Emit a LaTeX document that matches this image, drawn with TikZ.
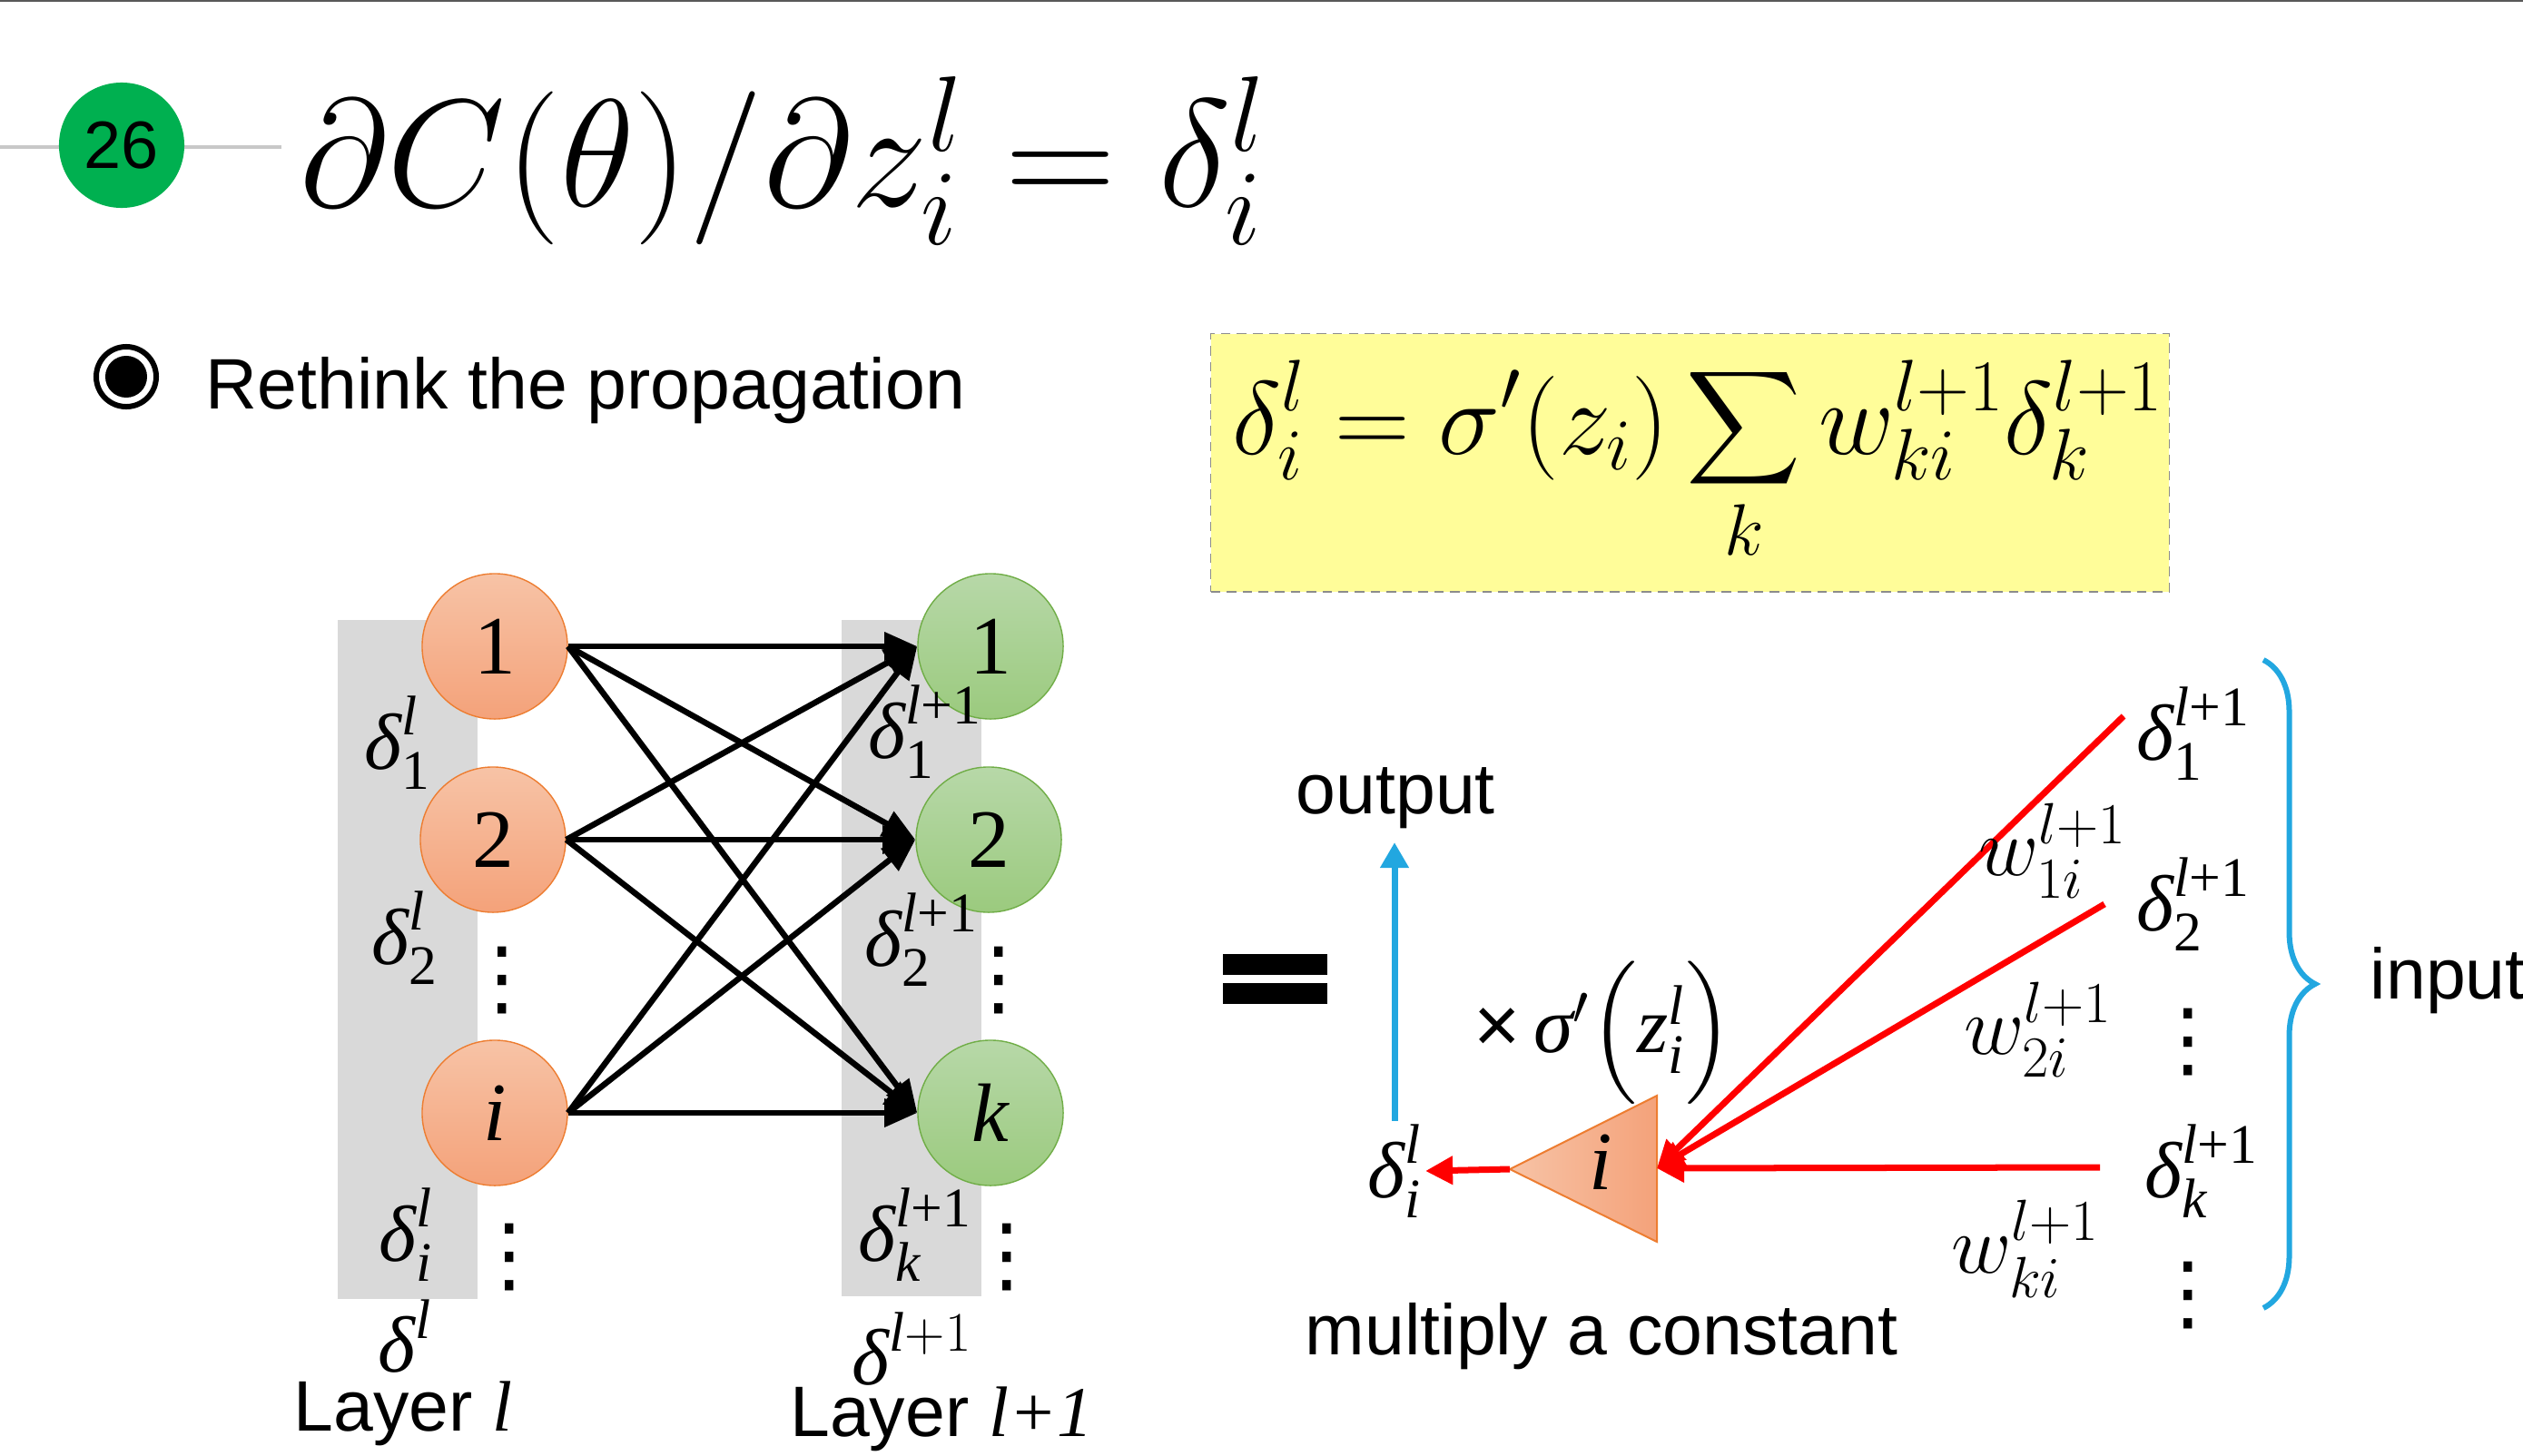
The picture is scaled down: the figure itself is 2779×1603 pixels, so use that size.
\RequirePackage{fix-cm}
\documentclass[tikz,border=0pt]{standalone}
\usepackage{amsmath}
\usepackage[no-math]{fontspec}
\setmainfont{Liberation Sans}
\newfontfamily\tms{Liberation Serif}
\newfontfamily\dejavu{DejaVu Sans}
\usetikzlibrary{arrows.meta,decorations.pathreplacing}
\definecolor{badge}{HTML}{00B050}
\definecolor{rulegrey}{HTML}{C8C8C8}
\definecolor{topline}{HTML}{595959}
\definecolor{bandc}{HTML}{D9D9D9}
\definecolor{ltop}{HTML}{F7C3A6}
\definecolor{lbot}{HTML}{F4A27A}
\definecolor{lborder}{HTML}{ED7D31}
\definecolor{rtop}{HTML}{B7D8A8}
\definecolor{rbot}{HTML}{9BCA7E}
\definecolor{rborder}{HTML}{70AD47}
\definecolor{boxfill}{HTML}{FFFD99}
\definecolor{boxline}{HTML}{8C8C8C}
\definecolor{redc}{HTML}{FF0000}
\definecolor{bluec}{HTML}{22A7E0}
\newcommand{\tdel}[2]{$\text{\tms\itshape δ}_{\text{\tms #1}}^{\text{\tms #2}}$}
\tikzset{
  lnode/.style={circle, draw=lborder, top color=ltop, bottom color=lbot, minimum size=1.6cm,
                inner sep=0pt, font=\tms\fontsize{26}{30}\selectfont},
  rnode/.style={lnode, draw=rborder, top color=rtop, bottom color=rbot},
  arr/.style={-{Triangle[length=0.36cm, width=0.3cm]}, line width=0.065cm, draw=black},
  redarr/.style={-{Triangle[length=0.3cm, width=0.3cm]}, line width=0.07cm, draw=redc},
  bluearr/.style={-{Triangle[length=0.28cm, width=0.3cm]}, line width=0.07cm, draw=bluec},
  lbl/.style={font=\fontsize{25}{30}\selectfont, inner sep=1pt},
  wlbl/.style={font=\fontsize{26}{30}\selectfont, inner sep=1pt},
  txt/.style={font=\fontsize{22.4}{26}\selectfont, inner sep=0pt},
  vdot/.style={font=\dejavu\fontsize{26}{30}\selectfont, inner sep=0pt},
}
\begin{document}
\begin{tikzpicture}[x=0.01cm, y=-0.01cm]
  \useasboundingbox (0,0) rectangle (2779,1603);
  % header
  \coordinate (topL) at (0,1); \coordinate (topR) at (2779,1);
  \draw[topline, line width=0.02cm] (topL) -- (topR);
  \coordinate (ruleL) at (0,162); \coordinate (ruleR) at (310,162);
  \draw[rulegrey, line width=0.04cm] (ruleL) -- (ruleR);
  \node[circle, fill=badge, minimum size=1.38cm, inner sep=0pt, font=\fontsize{21}{24}\selectfont] (num) at (134,160) {26};
  \node[anchor=base west, inner sep=0pt, font=\fontsize{48}{52}\selectfont] (title) at (330,228)
    {$\partial C(\theta)/\partial z_i^l = \delta_i^l$};
  \node[circle, draw, line width=0.06cm, minimum size=0.66cm, inner sep=0pt] (bul) at (139,415) {};
  \fill (bul.center) circle (0.23cm);
  \node[txt, anchor=base west] (head) at (226,450) {Rethink the propagation};
  % formula box
  \node[draw=boxline, densely dashed, fill=boxfill, minimum width=10.55cm, minimum height=2.84cm,
        anchor=north west, inner sep=0pt] (box) at (1333,367) {};
  \node[anchor=base west, inner sep=0pt, font=\fontsize{32.6}{36}\selectfont] (fml) at (1357,500)
    {$\displaystyle \delta_i^l=\sigma'(z_i)\sum_k w_{ki}^{l+1}\delta_k^{l+1}$};
  % two layers
  \node[fill=bandc, minimum width=1.54cm, minimum height=7.48cm, anchor=north west, inner sep=0pt] (lband) at (371,682) {};
  \node[fill=bandc, minimum width=1.54cm, minimum height=7.45cm, anchor=north west, inner sep=0pt] (rband) at (926,682) {};
  \node[lnode] (l1) at (545,712) {1};
  \node[lnode] (l2) at (543,925) {2};
  \node[lnode] (li) at (545,1226) {\itshape i};
  \node[rnode] (r1) at (1091,712) {1};
  \node[rnode] (r2) at (1089,925) {2};
  \node[rnode] (rk) at (1091,1226) {\itshape k};
  \foreach \a in {l1,l2,li}
    \foreach \b in {r1,r2,rk}
      \draw[arr] (\a.east) -- (\b.west);
  \node[lbl] (dl1) at (438,818) {\tdel{1}{\textit{l}}};
  \node[lbl] (dl2) at (446,1033) {\tdel{2}{\textit{l}}};
  \node[lbl] (dli) at (447,1360) {\tdel{\textit{i}}{\textit{l}}};
  \node[vdot] (ldots1) at (553,1080) {⋮};
  \node[vdot] (ldots2) at (561,1385) {⋮};
  \node[lbl] (dr1) at (1019,806) {\tdel{1}{\textit{l}+1}};
  \node[lbl] (dr2) at (1015,1035) {\tdel{2}{\textit{l}+1}};
  \node[lbl] (drk) at (1008,1360) {\tdel{\textit{k}}{\textit{l}+1}};
  \node[vdot] (rdots1) at (1100,1080) {⋮};
  \node[vdot] (rdots2) at (1109,1385) {⋮};
  \node[lbl, inner sep=0pt] (dlay1) at (446,1472) {$\text{\tms\itshape δ}^{\text{\tms\itshape l}}$};
  \node[lbl, inner sep=0pt] (dlay2) at (1005,1486) {$\text{\tms\itshape δ}^{\text{\tms\itshape l}\tms+1}$};
  \node[txt, anchor=base] (lay1) at (444,1576) {Layer {\tms\itshape l}};
  \node[txt, anchor=base] (lay2) at (1037,1582) {Layer {\tms\itshape l+1}};
  % equals shape
  \fill (1347,1051) rectangle (1462,1074);
  \fill (1347,1083) rectangle (1462,1106);
  % single neuron
  \coordinate (tritip) at (1663,1288);
  \coordinate (tritop) at (1825,1207);
  \coordinate (tribot) at (1825,1368);
  \coordinate (tribase) at (1825,1287);
  \shadedraw[left color=ltop, right color=lbot, draw=lborder, line width=0.02cm] (tritip) -- (tritop) -- (tribot) -- cycle;
  \node[font=\tms\itshape\fontsize{26}{30}\selectfont, inner sep=0pt] (tri) at (1763,1280) {i};
  \node[lbl] (gain) at (1766,1138)
    {×$\,\text{\tms\itshape σ}'\Bigl(\text{\tms\itshape z}_{\text{\tms\itshape i}}^{\text{\tms\itshape l}}\Bigr)$};
  \node[lbl] (dout) at (1536,1290) {\tdel{\textit{i}}{\textit{l}}};
  \coordinate (outtip) at (1536,928);
  \draw[bluearr] (dout.north) -- (outtip);
  \node[txt, anchor=base west] (outtxt) at (1427,896) {output};
  \draw[redarr] (tritip) -- (dout.east);
  \node[txt, anchor=base west] (mul) at (1437,1492) {multiply a constant};
  % inputs
  \coordinate (s1) at (2339,789);
  \coordinate (s2) at (2318,996);
  \coordinate (sk) at (2313,1286);
  \foreach \s in {s1,s2,sk}
    \draw[redarr] (\s) -- (tribase);
  \node[wlbl] (w1) at (2261,937) {$w_{1i}^{l+1}$};
  \node[wlbl] (w2) at (2245,1134) {$w_{2i}^{l+1}$};
  \node[wlbl] (wk) at (2231,1376) {$w_{ki}^{l+1}$};
  \node[lbl] (in1) at (2416,808) {\tdel{1}{\textit{l}+1}};
  \node[lbl] (in2) at (2416,996) {\tdel{2}{\textit{l}+1}};
  \node[lbl] (ink) at (2425,1290) {\tdel{\textit{k}}{\textit{l}+1}};
  \node[vdot] (idots1) at (2410,1148) {⋮};
  \node[vdot] (idots2) at (2410,1427) {⋮};
  \coordinate (brtop) at (2493,727);
  \coordinate (brbot) at (2493,1441);
  \draw[bluec, line width=0.06cm, decorate, decoration={brace, amplitude=0.57cm}] (brtop) -- (brbot);
  \node[txt, anchor=base west] (inp) at (2610,1100) {input};
\end{tikzpicture}
\end{document}
